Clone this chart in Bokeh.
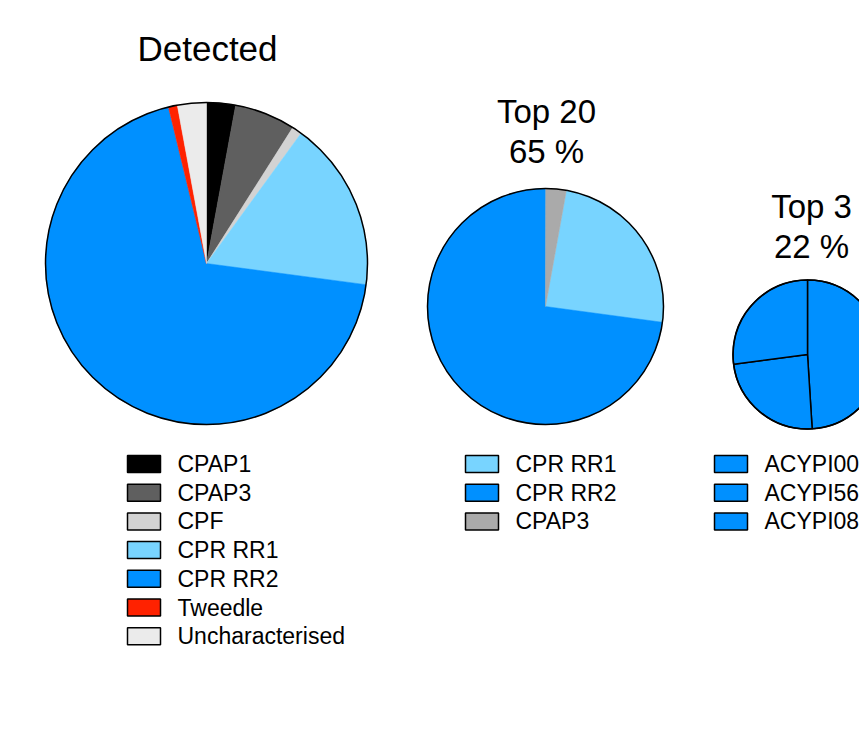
import numpy as np
from bokeh.plotting import figure
from bokeh.models import Range1d, ColumnDataSource
from bokeh.core.properties import value
from bokeh.embed import file_html
from bokeh.resources import INLINE

# ---------------- data ----------------
detected_labels = ["CPAP1", "CPAP3", "CPF", "CPR RR1", "CPR RR2", "Tweedle", "Uncharacterised"]
detected_values = [2.9, 6.1, 1.0, 17.1, 69.1, 0.9, 2.9]
detected_colors = ["#000000", "#5f5f5f", "#d3d3d3", "#78d4ff", "#0090ff", "#ff2200", "#ebebeb"]

top20_labels = ["CPR RR1", "CPR RR2", "CPAP3"]
top20_values = [24.3, 72.9, 2.8]
top20_colors = ["#78d4ff", "#0090ff", "#aaaaaa"]
top20_pct = "65 %"

top3_labels = ["ACYPI004", "ACYPI566", "ACYPI086"]
top3_values = [49.0, 23.9, 27.1]
top3_colors = ["#0090ff", "#0090ff", "#0090ff"]
top3_pct = "22 %"

W, H = 859, 747
FONT = "Liberation Sans"

p = figure(width=W, height=H, output_backend="svg", toolbar_location=None,
           x_range=Range1d(0, W), y_range=Range1d(0, H),
           min_border=0, x_axis_location=None, y_axis_location=None)
p.grid.visible = False
p.outline_line_color = None
p.background_fill_color = "white"
p.border_fill_color = "white"


def Y(img_y):
    return H - img_y


def pie(cx, cy, r, vals, colors, start_deg, borders):
    vals = np.asarray(vals, dtype=float)
    fr = vals / vals.sum() * 360.0
    ends = start_deg + np.cumsum(fr)
    starts = ends - fr
    # clockwise-from-top degrees -> bokeh radians (ccw from +x)
    sa = np.radians(90 - ends)
    ea = np.radians(90 - starts)
    src = ColumnDataSource(dict(x=[cx] * len(vals), y=[Y(cy)] * len(vals),
                                sa=sa, ea=ea, color=colors))
    if borders:
        p.wedge(x="x", y="y", radius=r, start_angle="sa", end_angle="ea",
                fill_color="color", line_color="black", line_width=1.5, source=src)
    else:
        p.wedge(x="x", y="y", radius=r, start_angle="sa", end_angle="ea",
                fill_color="color", line_color="color", line_width=0.5, source=src)
    p.circle(x=[cx], y=[Y(cy)], radius=r, fill_color=None, line_color="black", line_width=1.5)


def legend(x0, y0, labels, colors, step=28.7):
    n = len(labels)
    ys = [Y(y0 + i * step) for i in range(n)]
    p.quad(left=[x0] * n, right=[x0 + 33] * n, top=[yy + 8.5 for yy in ys],
           bottom=[yy - 8.5 for yy in ys], fill_color=colors, line_color="black", line_width=1.5)
    p.text(x=[x0 + 50] * n, y=ys, text=labels, text_font=value(FONT), text_font_size="23px",
           text_baseline="middle", text_align="left", text_color="black")


# Pie 1 - Detected
pie(206, 263, 161, detected_values, detected_colors, 0.0, False)
p.text(x=[207], y=[Y(48)], text=["Detected"], text_font=value(FONT), text_font_size="35px",
       text_baseline="middle", text_align="center", text_color="black")
legend(127, 463.5, detected_labels, detected_colors)

# Pie 2 - Top 20
pie(545, 306, 118, top20_values, top20_colors, 10.2, False)
p.text(x=[546, 546], y=[Y(111), Y(151)], text=["Top 20", top20_pct], text_font=value(FONT),
       text_font_size="33px", text_baseline="middle", text_align="center", text_color="black")
legend(465, 463.5, top20_labels, top20_colors)

# Pie 3 - Top 3
pie(807, 354, 74.5, top3_values, top3_colors, 0.0, True)
p.text(x=[811, 811], y=[Y(206), Y(246)], text=["Top 3", top3_pct], text_font=value(FONT),
       text_font_size="33px", text_baseline="middle", text_align="center", text_color="black")
legend(714, 463.5, top3_labels, top3_colors)

open("out.html", "w").write(file_html(p, INLINE))
